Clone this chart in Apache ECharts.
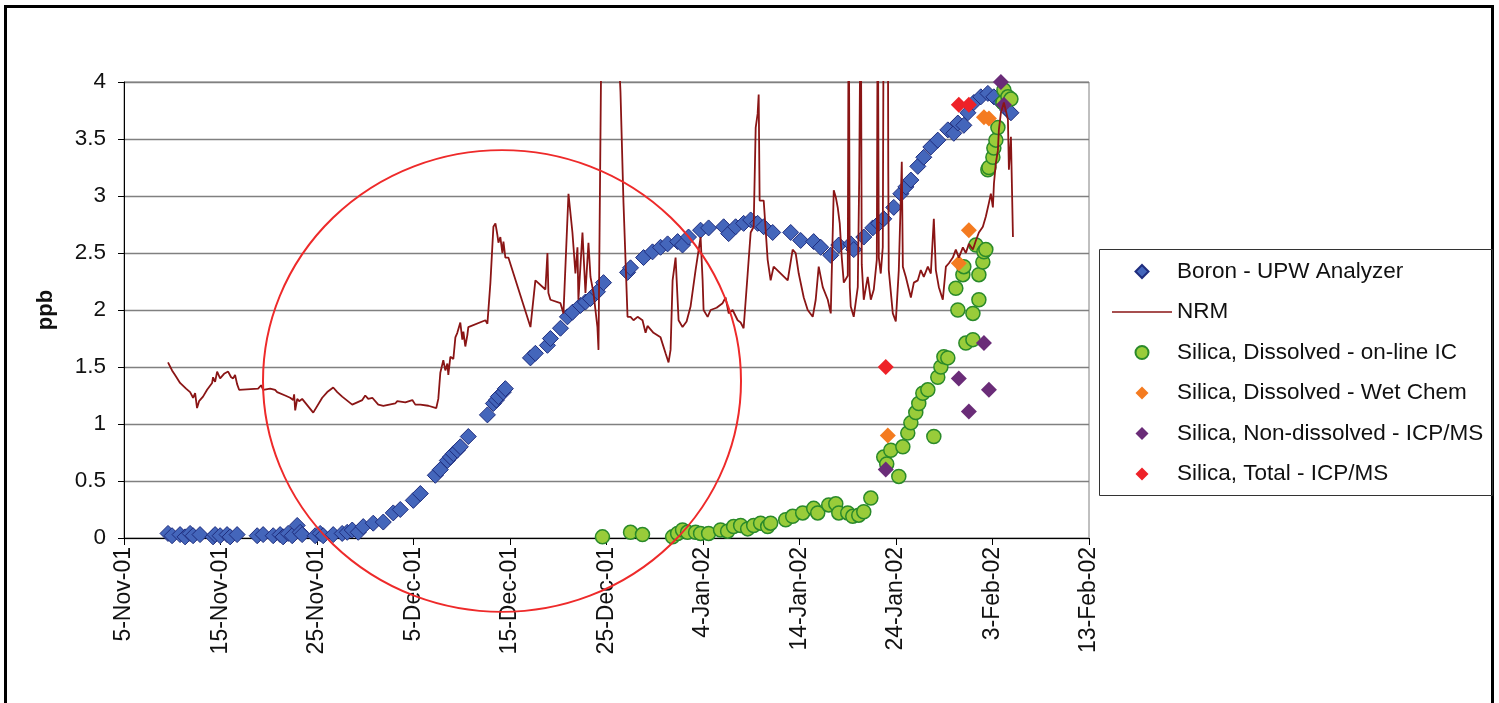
<!DOCTYPE html>
<html>
<head>
<meta charset="utf-8">
<script src="https://cdn.jsdelivr.net/npm/echarts@6/dist/echarts.min.js"></script>
<style>
html,body{margin:0;padding:0;background:#fff;}
#chart{width:1499px;height:703px;}
</style>
</head>
<body>
<div id="chart"></div>
<script>
// x values are days after 5-Nov-2001
const TICK_LABELS = ['5-Nov-01','15-Nov-01','25-Nov-01','5-Dec-01','15-Dec-01','25-Dec-01','4-Jan-02','14-Jan-02','24-Jan-02','3-Feb-02','13-Feb-02'];
const SERIES_NAMES = ['Boron - UPW Analyzer','NRM','Silica, Dissolved - on-line IC','Silica, Dissolved - Wet Chem','Silica, Non-dissolved - ICP/MS','Silica, Total - ICP/MS'];

const boron = [
[4.56,0.04],[4.98,0.02],[5.81,0.03],[6.33,0.01],[6.85,0.04],[7.16,0.02],[7.88,0.03],[9.23,0.01],[9.44,0.03],[9.96,0.02],
[10.68,0.03],[11.0,0.01],[11.72,0.03],[13.8,0.02],[14.42,0.03],[15.46,0.02],[16.18,0.03],[16.49,0.01],[17.01,0.04],[17.43,0.02],
[17.95,0.11],[18.26,0.05],[18.46,0.03],[19.81,0.02],[20.33,0.04],[20.64,0.02],[21.68,0.03],[22.61,0.04],[23.13,0.05],[23.65,0.07],
[24.27,0.05],[24.79,0.10],[25.83,0.13],[26.87,0.14],[27.9,0.22],[28.63,0.25],[29.98,0.33],[30.71,0.39],[32.26,0.55],[32.78,0.60],
[33.51,0.68],[33.82,0.71],[34.13,0.74],[34.54,0.77],[34.85,0.80],[35.68,0.89],[37.66,1.08],[38.28,1.18],[38.59,1.21],[38.8,1.24],
[39.31,1.28],[39.52,1.31],[42.12,1.58],[42.63,1.62],[43.88,1.69],[44.19,1.75],[45.23,1.84],[45.95,1.94],[46.47,1.98],[47.3,2.04],
[47.82,2.07],[48.34,2.10],[49.06,2.16],[49.69,2.24],[52.18,2.33],[52.49,2.37],[53.84,2.46],[54.77,2.51],[55.6,2.55],[56.33,2.58],
[57.37,2.60],[57.88,2.57],[58.5,2.64],[59.75,2.70],[60.58,2.72],[62.14,2.73],[62.66,2.67],[63.38,2.73],[64.21,2.76],[64.94,2.79],
[65.66,2.76],[66.29,2.73],[67.22,2.68],[69.09,2.68],[70.12,2.61],[71.47,2.60],[72.2,2.55],[73.24,2.48],[74.07,2.57],[75.31,2.58],
[75.62,2.53],[76.66,2.64],[77.59,2.72],[78.21,2.76],[78.73,2.80],[79.77,2.90],[80.5,3.02],[81.02,3.08],[81.54,3.14],[82.26,3.26],
[82.88,3.34],[83.61,3.43],[84.33,3.49],[85.37,3.58],[85.99,3.55],[86.41,3.64],[87.03,3.62],[87.45,3.73],[88.07,3.82],[88.79,3.87],
[89.52,3.90],[90.14,3.87],[90.87,3.82],[91.6,3.75],[91.91,3.73]
];

const nrm = [
[4.56,1.54],[4.98,1.47],[5.29,1.43],[5.81,1.36],[6.43,1.31],[6.85,1.28],[7.16,1.23],[7.37,1.27],[7.57,1.14],[7.78,1.20],
[8.19,1.24],[8.61,1.30],[9.13,1.36],[9.23,1.41],[9.44,1.37],[9.65,1.46],[9.96,1.40],[10.37,1.44],[10.79,1.46],[11.1,1.41],
[11.31,1.40],[11.51,1.43],[11.72,1.35],[11.93,1.30],[13.9,1.31],[14.21,1.34],[14.42,1.30],[15.15,1.31],[15.66,1.30],[15.87,1.28],
[16.7,1.25],[17.22,1.23],[17.53,1.21],[17.63,1.26],[17.74,1.12],[17.95,1.22],[18.15,1.20],[18.46,1.22],[19.61,1.10],[20.54,1.23],
[21.06,1.28],[21.68,1.32],[22.1,1.28],[22.61,1.24],[23.65,1.17],[24.69,1.21],[25.0,1.25],[25.31,1.22],[25.73,1.23],[26.35,1.17],
[26.87,1.16],[28.11,1.18],[28.32,1.20],[29.15,1.19],[29.88,1.21],[30.19,1.17],[30.71,1.17],[31.54,1.16],[32.36,1.14],[32.57,1.22],
[32.78,1.45],[33.09,1.56],[33.3,1.47],[33.51,1.53],[33.61,1.43],[33.82,1.59],[34.13,1.57],[34.34,1.76],[34.54,1.80],[34.85,1.89],
[35.06,1.74],[35.17,1.81],[35.37,1.68],[35.58,1.78],[35.68,1.85],[37.45,1.91],[37.66,1.88],[37.97,2.24],[38.28,2.73],[38.49,2.76],
[38.69,2.66],[38.8,2.59],[39.0,2.64],[39.21,2.50],[39.32,2.60],[39.52,2.46],[39.83,2.46],[42.12,1.85],[42.63,2.26],[43.67,2.18],
[43.88,2.50],[43.98,2.15],[44.19,2.09],[45.23,2.06],[45.54,1.97],[46.06,3.02],[46.47,2.68],[46.78,2.32],[46.99,2.55],[47.09,2.09],
[47.51,2.68],[47.82,2.15],[48.13,2.59],[48.34,2.29],[48.65,2.15],[49.06,1.85],[49.17,1.65],[49.48,4.5],[50.41,5.0],[51.14,4.5],
[51.45,3.91],[51.76,2.94],[52.18,1.94],[52.49,1.94],[52.8,1.91],[53.22,1.94],[53.73,1.91],[54.05,1.80],[54.25,1.86],[54.87,1.80],
[55.6,1.76],[56.12,1.62],[56.43,1.54],[56.64,1.65],[56.85,2.26],[57.16,2.46],[57.47,1.91],[57.88,1.85],[58.3,1.90],[58.71,2.03],
[59.23,2.35],[59.75,2.64],[59.96,2.26],[60.06,2.00],[60.48,1.94],[60.79,2.00],[61.41,2.02],[62.03,2.06],[62.34,2.11],[62.66,1.97],
[63.07,2.00],[63.59,1.91],[63.9,1.89],[64.21,1.84],[64.63,2.32],[64.94,2.68],[65.25,2.73],[65.46,3.60],[65.66,3.72],[65.77,3.89],
[65.87,2.96],[66.29,2.96],[66.7,2.44],[67.01,2.26],[67.32,2.38],[68.78,2.26],[69.29,2.53],[69.6,2.50],[69.92,2.32],[70.44,2.11],
[70.85,2.00],[71.37,1.94],[71.68,2.09],[71.99,2.38],[72.41,2.20],[72.93,2.09],[73.24,1.97],[73.55,3.05],[73.76,2.99],[73.96,2.90],
[74.17,2.76],[74.38,2.46],[74.59,2.24],[75.0,2.30],[75.1,5.0],[75.21,2.2],[75.31,2.03],[75.62,1.94],[76.04,2.20],[76.19,3.17],
[76.35,5.0],[76.45,2.4],[76.66,2.09],[77.07,2.29],[77.39,2.09],[77.7,2.18],[78.01,2.44],[78.11,5.0],[78.22,2.46],[78.42,2.32],
[78.63,2.55],[78.73,5.0],[79.15,5.0],[79.2,3.23],[79.25,2.35],[79.67,1.97],[79.98,1.90],[80.29,2.35],[80.6,3.30],[80.71,2.38],
[81.02,2.29],[81.54,2.11],[81.85,2.24],[82.26,2.26],[82.57,2.35],[82.88,2.29],[83.3,2.38],[83.61,2.32],[83.92,2.80],[84.13,2.35],
[84.44,2.20],[84.85,2.09],[85.17,2.38],[85.48,2.41],[85.89,2.46],[86.2,2.53],[86.51,2.46],[86.93,2.55],[87.24,2.50],[87.55,2.58],
[87.97,2.53],[88.28,2.61],[88.59,2.68],[89.0,2.73],[89.31,2.82],[89.63,2.94],[89.83,3.02],[90.04,2.90],[90.15,3.11],[90.35,3.29],
[90.56,3.40],[90.66,3.58],[90.87,3.73],[91.18,3.82],[91.6,3.67],[91.7,3.23],[91.91,3.52],[92.12,2.64]
];

const silicaOnline = [
[49.58,0.01],[52.49,0.05],[53.73,0.03],[56.85,0.01],[57.37,0.04],[57.88,0.07],[58.4,0.05],[59.23,0.05],[59.75,0.04],[60.58,0.04],
[61.82,0.07],[62.55,0.06],[63.17,0.10],[63.9,0.11],[64.63,0.08],[65.25,0.11],[65.97,0.13],[66.7,0.10],[67.01,0.13],[68.57,0.16],
[69.29,0.19],[70.33,0.22],[71.47,0.26],[71.89,0.22],[73.03,0.29],[73.76,0.30],[74.07,0.22],[75.0,0.22],[75.52,0.19],[76.14,0.20],
[76.66,0.23],[77.39,0.35],[78.73,0.71],[79.04,0.65],[79.46,0.77],[80.29,0.54],[80.71,0.80],[81.22,0.92],[81.54,1.01],[82.05,1.10],
[82.36,1.18],[82.78,1.27],[83.3,1.30],[83.92,0.89],[84.33,1.41],[84.65,1.50],[84.96,1.59],[85.37,1.58],[86.2,2.19],[86.41,2.00],
[86.93,2.31],[87.03,2.38],[87.24,1.71],[87.97,1.74],[87.97,1.97],[88.28,2.57],[88.59,2.09],[88.59,2.31],[89.0,2.42],[89.11,2.51],
[89.31,2.53],[89.52,3.23],[89.63,3.25],[90.04,3.34],[90.14,3.42],[90.35,3.49],[90.56,3.60],[91.08,3.82],[91.18,3.93],[91.6,3.87],
[91.91,3.85]
];

const silicaWetChem = [[79.15,0.90],[86.51,2.41],[87.55,2.70],[89.11,3.69],[89.63,3.68]];
const silicaNonDissolved = [[78.94,0.60],[86.51,1.40],[87.55,1.11],[89.11,1.71],[89.63,1.30],[90.87,4.0],[91.18,3.80]];
const silicaTotal = [[78.94,1.50],[86.51,3.80],[87.55,3.80]];

const FONT = "'Liberation Sans', Arial, sans-serif";
const DIAMOND_ICON = 'path://M0,-1L1,0L0,1L-1,0Z';
const LINE_ICON = 'path://M0,0H60V1.6H0Z';

const chart = echarts.init(document.getElementById('chart'), null, {renderer:'canvas'});
chart.setOption({
  animation:false,
  backgroundColor:'#fff',
  textStyle:{fontFamily:FONT},
  grid:{left:124, right:410, top:82, bottom:165, show:true, borderColor:'#808080', borderWidth:1},
  xAxis:{
    type:'value', min:0, max:100, interval:10,
    axisLine:{show:true, onZero:false, lineStyle:{color:'#000', width:1}},
    axisTick:{show:true, length:7, lineStyle:{color:'#000'}},
    splitLine:{show:false},
    axisLabel:{rotate:90, margin:9, fontSize:23, color:'#111', fontFamily:FONT,
      formatter:function(v){return TICK_LABELS[Math.round(v/10)];}}
  },
  yAxis:{
    type:'value', min:0, max:4, interval:0.5,
    name:'ppb', nameLocation:'middle', nameGap:67, nameRotate:90,
    nameTextStyle:{fontSize:22, fontWeight:'bold', color:'#111', fontFamily:FONT},
    axisLine:{show:true, lineStyle:{color:'#000', width:1}},
    axisTick:{show:true, length:6, lineStyle:{color:'#000'}},
    splitLine:{show:true, lineStyle:{color:'#808080', width:1.3}},
    axisLabel:{margin:18, fontSize:22.5, color:'#111', fontFamily:FONT}
  },
  legend:{
    orient:'vertical', left:1107, top:255, itemWidth:60, itemHeight:13, itemGap:17.5,
    symbolKeepAspect:true,
    textStyle:{fontSize:22.5, lineHeight:22, color:'#111', fontFamily:FONT, padding:[0,0,0,0]},
    data:[
      {name:SERIES_NAMES[0], icon:DIAMOND_ICON},
      {name:SERIES_NAMES[1], icon:LINE_ICON},
      {name:SERIES_NAMES[2], icon:'circle'},
      {name:SERIES_NAMES[3], icon:DIAMOND_ICON},
      {name:SERIES_NAMES[4], icon:DIAMOND_ICON},
      {name:SERIES_NAMES[5], icon:DIAMOND_ICON}
    ]
  },
  series:[
    {name:SERIES_NAMES[0], type:'scatter', data:boron, symbol:'diamond', symbolSize:16, clip:false,
     itemStyle:{color:'#4466BB', borderColor:'#1F2D7E', borderWidth:1, opacity:1}},
    {name:SERIES_NAMES[1], type:'line', data:nrm, symbol:'none', showSymbol:false, clip:true,
     lineStyle:{color:'#8A1515', width:1.8}, itemStyle:{color:'#8A1515'}},
    {name:SERIES_NAMES[2], type:'scatter', data:silicaOnline, symbol:'circle', symbolSize:14, clip:false,
     itemStyle:{color:'#99CC3A', borderColor:'#2A8A2A', borderWidth:1.5, opacity:1}},
    {name:SERIES_NAMES[3], type:'scatter', data:silicaWetChem, symbol:'diamond', symbolSize:16, clip:false,
     itemStyle:{color:'#F47B20', opacity:1}},
    {name:SERIES_NAMES[4], type:'scatter', data:silicaNonDissolved, symbol:'diamond', symbolSize:16, clip:false,
     itemStyle:{color:'#6A2C78', opacity:1}},
    {name:SERIES_NAMES[5], type:'scatter', data:silicaTotal, symbol:'diamond', symbolSize:16, clip:false,
     itemStyle:{color:'#EE2228', opacity:1}}
  ],
  graphic:[
    {type:'rect', z:100, silent:true, shape:{x:5.5, y:6.5, width:1487, height:720},
     style:{fill:'none', stroke:'#000', lineWidth:3}},
    {type:'rect', z:100, silent:true, shape:{x:1099.5, y:249.5, width:393, height:246},
     style:{fill:'none', stroke:'#333', lineWidth:1}},
    {type:'circle', z:100, silent:true, x:502, y:381, scaleY:0.966, shape:{cx:0, cy:0, r:239},
     style:{fill:'none', stroke:'#EE2A2A', lineWidth:2, strokeNoScale:true}}
  ]
});
</script>
</body>
</html>
